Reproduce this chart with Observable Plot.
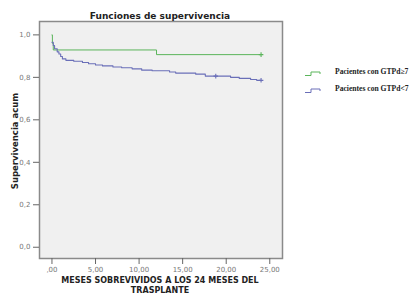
<!DOCTYPE html>
<html><head><meta charset="utf-8">
<script src="https://cdn.jsdelivr.net/npm/d3@7"></script>
<script src="https://cdn.jsdelivr.net/npm/@observablehq/plot@0.6"></script>
<style>body{margin:0;background:#fff}</style>
</head><body><div id="chart"></div>
<script>
const title = "Funciones de supervivencia";
const xLabel = ["MESES SOBREVIVIDOS A LOS 24 MESES DEL", "TRASPLANTE"];
const yLabel = "Supervivencia acum";
const seriesNames = ["Pacientes con GTPd≥7", "Pacientes con GTPd<7"];
const seriesColors = ["#5bb55b", "#6a6fb8"];
const xTicks = [0, 5, 10, 15, 20, 25];
const xTickLabels = [",00", "5,00", "10,00", "15,00", "20,00", "25,00"];
const yTicks = [0, 0.2, 0.4, 0.6, 0.8, 1.0];
const yTickLabels = ["0,0", "0,2", "0,4", "0,6", "0,8", "1,0"];

const greenTime = [0, 0.05, 0.15, 12.0, 24.0];
const greenSurv = [1.0, 0.96, 0.929, 0.907, 0.907];
const blueTime = [0, 0.15, 0.3, 0.6, 0.8, 1.0, 1.2, 1.6, 2.5, 3.5, 4.2, 5.0, 5.8, 7.0, 8.0, 9.2, 10.3, 11.5, 13.5, 14.2, 16.5, 17.6, 20.5, 21.5, 22.8, 23.5, 24.0];
const blueSurv = [0.965, 0.95, 0.935, 0.92, 0.91, 0.898, 0.887, 0.88, 0.876, 0.87, 0.864, 0.858, 0.854, 0.849, 0.845, 0.84, 0.834, 0.831, 0.825, 0.82, 0.815, 0.806, 0.8, 0.795, 0.79, 0.786, 0.786];
const censorTime = [24.0, 18.8, 24.0];
const censorSurv = [0.907, 0.806, 0.786];
const censorSeries = [0, 1, 1];

const green = greenTime.map((t, i) => ({t, s: greenSurv[i]}));
const blue = blueTime.map((t, i) => ({t, s: blueSurv[i]}));
const censors = censorTime.map((t, i) => ({t, s: censorSurv[i], k: censorSeries[i]}));

const W = 420, H = 304;
const plot = Plot.plot({
  width: W, height: H,
  marginLeft: 39, marginRight: 138, marginTop: 21, marginBottom: 46,
  style: {fontFamily: "'DejaVu Sans', sans-serif", fontSize: "7px", color: "#666", background: "#fff"},
  x: {domain: [-1.43, 26.46], ticks: xTicks, tickFormat: (d, i) => xTickLabels[i], label: null, tickSize: 4, tickPadding: 2},
  y: {domain: [-0.053, 1.063], ticks: yTicks, tickFormat: (d, i) => yTickLabels[i], label: null, tickSize: 4, tickPadding: 2},
  marks: [
    Plot.frame({fill: "#f0f0f0", stroke: "none"}),
    Plot.line(green, {x: "t", y: "s", curve: "step-after", stroke: seriesColors[0], strokeWidth: 1}),
    Plot.line(blue, {x: "t", y: "s", curve: "step-after", stroke: seriesColors[1], strokeWidth: 1.1}),
    Plot.dot(censors, {x: "t", y: "s", symbol: "plus", r: 1.6, stroke: d => seriesColors[d.k], strokeWidth: 1.1}),
    Plot.frame({stroke: "#8a8a8a", strokeWidth: 1.5}),
    Plot.axisX({ticks: xTicks, tickFormat: (d, i) => xTickLabels[i], stroke: "#666", fill: "#777", label: null}),
    Plot.axisY({ticks: yTicks, tickFormat: (d, i) => yTickLabels[i], stroke: "#666", fill: "#777", label: null})
  ]
});
document.getElementById("chart").appendChild(plot);

const svg = d3.select(plot);
svg.append("text").text(title)
  .attr("x", 160).attr("y", 18.5).attr("text-anchor", "middle")
  .attr("font-family", "'DejaVu Sans', sans-serif").attr("font-weight", "bold")
  .attr("font-size", 9).attr("fill", "#222");
svg.append("text").text(yLabel)
  .attr("transform", "translate(18,141) rotate(-90)").attr("text-anchor", "middle")
  .attr("font-family", "'DejaVu Sans', sans-serif").attr("font-weight", "bold")
  .attr("font-size", 8.5).attr("fill", "#222");
xLabel.forEach((l, i) => {
  svg.append("text").text(l)
    .attr("x", 160).attr("y", 283 + i * 10).attr("text-anchor", "middle")
    .attr("font-family", "'DejaVu Sans', sans-serif").attr("font-weight", "bold")
    .attr("font-size", 8).attr("fill", "#222");
});
seriesNames.forEach((n, i) => {
  const y = 74 + i * 17;
  svg.append("path")
    .attr("d", `M305,${y + 1.5}H311V${y - 2}H320V${y}`)
    .attr("fill", "none").attr("stroke", seriesColors[i]).attr("stroke-width", 1);
  svg.append("text").text(n)
    .attr("x", 335).attr("y", y)
    .attr("text-anchor", "start")
    .attr("font-family", "'Liberation Serif', serif").attr("font-weight", "bold")
    .attr("font-size", 7.6).attr("fill", "#222");
});
</script></body></html>
